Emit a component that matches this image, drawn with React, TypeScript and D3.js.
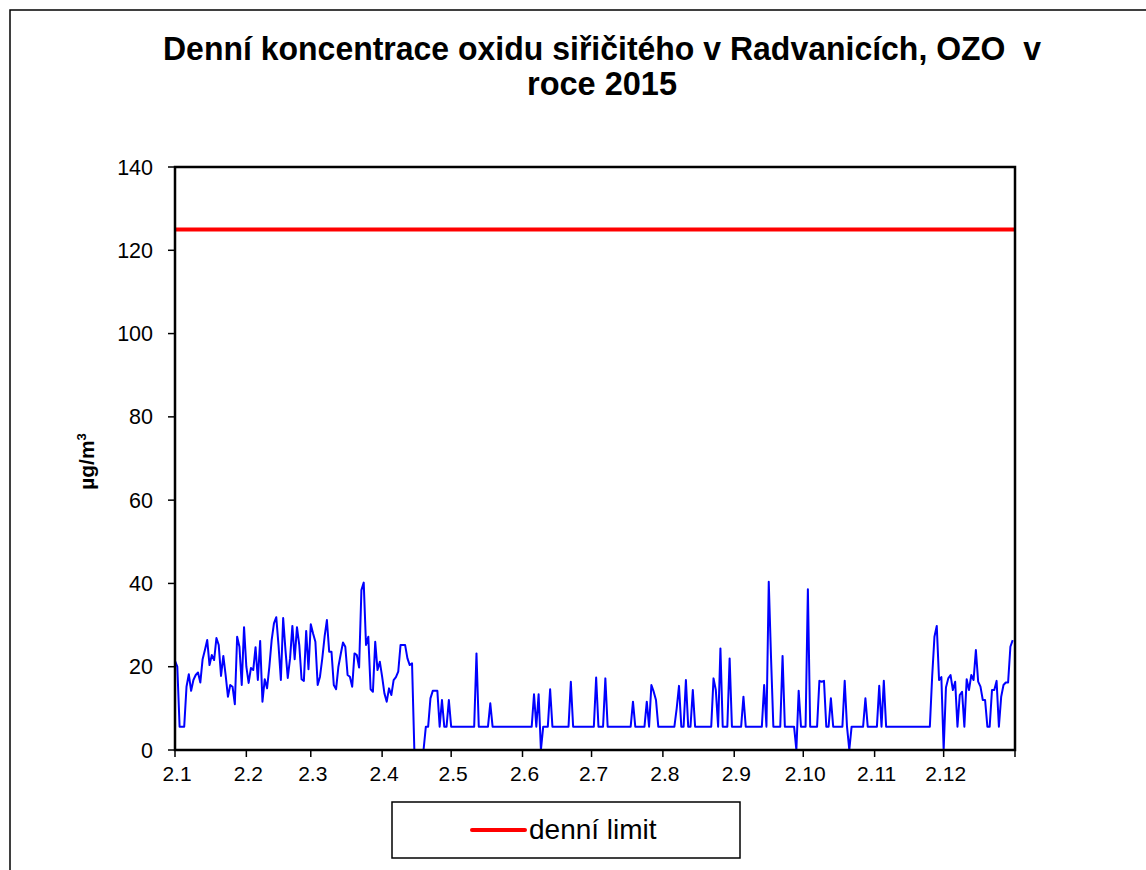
import React from 'react';
import * as d3 from 'd3';

// daily SO2 means, 1.1.2015 - 31.12.2015 (µg/m3)
const so2Daily = [
  21.4, 20, 5.6, 5.6, 5.6, 15.2, 18.2, 14.2, 16.8, 18,
  18.6, 16.2, 21.8, 24, 26.4, 20.4, 22.8, 21.6, 26.9, 25.2,
  17.8, 22.6, 18, 12.8, 15.6, 15.2, 11, 27.2, 24.8, 15.6,
  29.5, 20, 16.1, 19.7, 19.2, 24.7, 16.8, 26.2, 11.6, 17,
  14.8, 20, 26.4, 30.4, 31.9, 25, 16.8, 31.7, 24, 17.3,
  22, 29.8, 21.8, 29.5, 25.2, 17, 16.6, 28.6, 19.4, 30.2,
  28, 26, 15.6, 17.6, 22, 27.2, 31.2, 23.6, 23.6, 15.6,
  14.6, 20, 23, 25.8, 24.8, 18, 17.6, 15.2, 23.2, 22.8,
  19.8, 38.4, 40.2, 25.2, 27.2, 14.6, 14, 26, 19.2, 21.2,
  17.6, 13.6, 11.6, 14.8, 13.2, 16.8, 17.5, 18.8, 25.2, 25.2,
  25.2, 22, 20.4, 20.8, 0, 0, 0, 0, 0, 5.6,
  5.6, 12.4, 14.2, 14.2, 14.2, 5.6, 12, 5.6, 5.6, 12,
  5.6, 5.6, 5.6, 5.6, 5.6, 5.6, 5.6, 5.6, 5.6, 5.6,
  5.6, 23.2, 5.6, 5.6, 5.6, 5.6, 5.6, 11.2, 5.6, 5.6,
  5.6, 5.6, 5.6, 5.6, 5.6, 5.6, 5.6, 5.6, 5.6, 5.6,
  5.6, 5.6, 5.6, 5.6, 5.6, 5.6, 13.4, 5.6, 13.4, 0,
  5.6, 5.6, 5.6, 14.6, 5.6, 5.6, 5.6, 5.6, 5.6, 5.6,
  5.6, 5.6, 16.4, 5.6, 5.6, 5.6, 5.6, 5.6, 5.6, 5.6,
  5.6, 5.6, 5.6, 17.4, 5.6, 5.6, 5.6, 17.2, 5.6, 5.6,
  5.6, 5.6, 5.6, 5.6, 5.6, 5.6, 5.6, 5.6, 5.6, 11.6,
  5.6, 5.6, 5.6, 5.6, 5.6, 11.6, 5.6, 15.6, 14, 12,
  5.6, 5.6, 5.6, 5.6, 5.6, 5.6, 5.6, 5.6, 10, 15.4,
  5.6, 5.6, 16.8, 5.6, 5.6, 14.4, 5.6, 5.6, 5.6, 5.6,
  5.6, 5.6, 5.6, 5.6, 17.2, 14.4, 5.6, 24.4, 5.6, 5.6,
  5.6, 22, 5.6, 5.6, 5.6, 5.6, 5.6, 12.8, 5.6, 5.6,
  5.6, 5.6, 5.6, 5.6, 5.6, 5.6, 15.6, 5.6, 40.4, 22,
  5.6, 5.6, 5.6, 5.6, 22.6, 5.6, 5.6, 5.6, 5.6, 5.6,
  0, 14.2, 5.6, 5.6, 5.6, 38.6, 5.6, 5.6, 5.6, 5.6,
  16.6, 16.4, 16.6, 5.6, 5.6, 12.4, 5.6, 5.6, 5.6, 5.6,
  5.6, 16.6, 5.6, 0, 5.6, 5.6, 5.6, 5.6, 5.6, 5.6,
  12.4, 5.6, 5.6, 5.6, 5.6, 5.6, 15.4, 5.6, 16.6, 5.6,
  5.6, 5.6, 5.6, 5.6, 5.6, 5.6, 5.6, 5.6, 5.6, 5.6,
  5.6, 5.6, 5.6, 5.6, 5.6, 5.6, 5.6, 5.6, 5.6, 17.6,
  27.2, 29.8, 16.8, 17.5, 0, 15, 17.2, 18, 14.4, 16.4,
  5.6, 13.2, 14, 5.6, 17, 14.4, 18, 16.8, 24, 16.4,
  15.2, 12, 12, 5.6, 5.6, 14.4, 14.4, 16.6, 5.6, 12.8,
  15.6, 16.2, 16.2, 24.8, 26.4,
];

const dayLimit = 125;
const monthLabels = ['2.1', '2.2', '2.3', '2.4', '2.5', '2.6', '2.7', '2.8', '2.9', '2.10', '2.11', '2.12'];
const yTicks = [0, 20, 40, 60, 80, 100, 120, 140];
const titleLines = ['Denní koncentrace oxidu siřičitého v Radvanicích, OZO  v', 'roce 2015'];
const legendLabel = 'denní limit';

const W = 1146;
const H = 870;
const m = { left: 175, right: 1015, top: 167, bottom: 750 };
const font = '"Liberation Sans", Arial, sans-serif';

export default function App() {
  const start = new Date(Date.UTC(2015, 0, 1));
  const end = new Date(Date.UTC(2016, 0, 1));
  const x = d3.scaleUtc().domain([start, end]).range([m.left, m.right]);
  const y = d3.scaleLinear().domain([0, 140]).range([m.bottom, m.top]);
  const monthTicks = d3.utcMonth.range(start, d3.utcDay.offset(end, 1));

  const pts = so2Daily.map((v, i) => ({ date: d3.utcDay.offset(start, i), v }));
  const line = d3.line<{ date: Date; v: number }>()
    .x(d => x(d.date))
    .y(d => y(d.v));

  // title is drawn a bit narrow, like the original
  const titleWidths = [878, 150];

  return (
    <svg width={W} height={H} style={{ position: 'absolute', left: 0, top: 0, background: '#fff' }}>
      <rect x={10} y={10} width={W + 20} height={H + 20} fill="#fff" stroke="#000" strokeWidth={1.5} />
      {titleLines.map((t, i) => (
        <text key={i} x={602} y={60 + i * 35} textAnchor="middle" fontFamily={font}
          fontWeight="bold" fontSize={33} fill="#000" style={{ whiteSpace: 'pre' }}
          textLength={titleWidths[i]} lengthAdjust="spacingAndGlyphs">{t}</text>
      ))}

      {/* y axis */}
      {yTicks.map(t => (
        <g key={t}>
          <line x1={m.left - 7} x2={m.left} y1={y(t)} y2={y(t)} stroke="#000" strokeWidth={1.5} />
          <text x={m.left - 22} y={y(t)} dy="0.35em" textAnchor="end" fontFamily={font}
            fontSize={21.5} fill="#000">{t}</text>
        </g>
      ))}
      <text transform={`translate(94,${(m.top + m.bottom) / 2 + 3}) rotate(-90)`} textAnchor="middle"
        fontFamily={font} fontWeight="bold" fontSize={21} fill="#000">
        µg/m<tspan dy={-8} fontSize={13}>3</tspan>
      </text>

      {/* x axis */}
      {monthTicks.map((d, i) => (
        <g key={i}>
          <line x1={x(d)} x2={x(d)} y1={m.bottom} y2={m.bottom + 7} stroke="#000" strokeWidth={1.5} />
          {i < monthLabels.length && (
            <text x={x(d) + 2} y={m.bottom + 31} textAnchor="middle" fontFamily={font}
              fontSize={21} fill="#000">{monthLabels[i]}</text>
          )}
        </g>
      ))}

      <path d={line(pts) || ''} fill="none" stroke="#0000ff" strokeWidth={2} strokeLinejoin="round" />
      <line x1={m.left} x2={m.right} y1={y(dayLimit)} y2={y(dayLimit)} stroke="#ff0000" strokeWidth={4} />

      <rect x={m.left} y={m.top} width={m.right - m.left} height={m.bottom - m.top}
        fill="none" stroke="#000" strokeWidth={2.5} />

      {/* legend */}
      <rect x={392} y={802} width={348} height={56} fill="#fff" stroke="#000" strokeWidth={1.5} />
      <line x1={472} x2={525} y1={830} y2={830} stroke="#ff0000" strokeWidth={4} strokeLinecap="round" />
      <text x={529} y={839} fontFamily={font} fontSize={28} fill="#000">{legendLabel}</text>
    </svg>
  );
}
